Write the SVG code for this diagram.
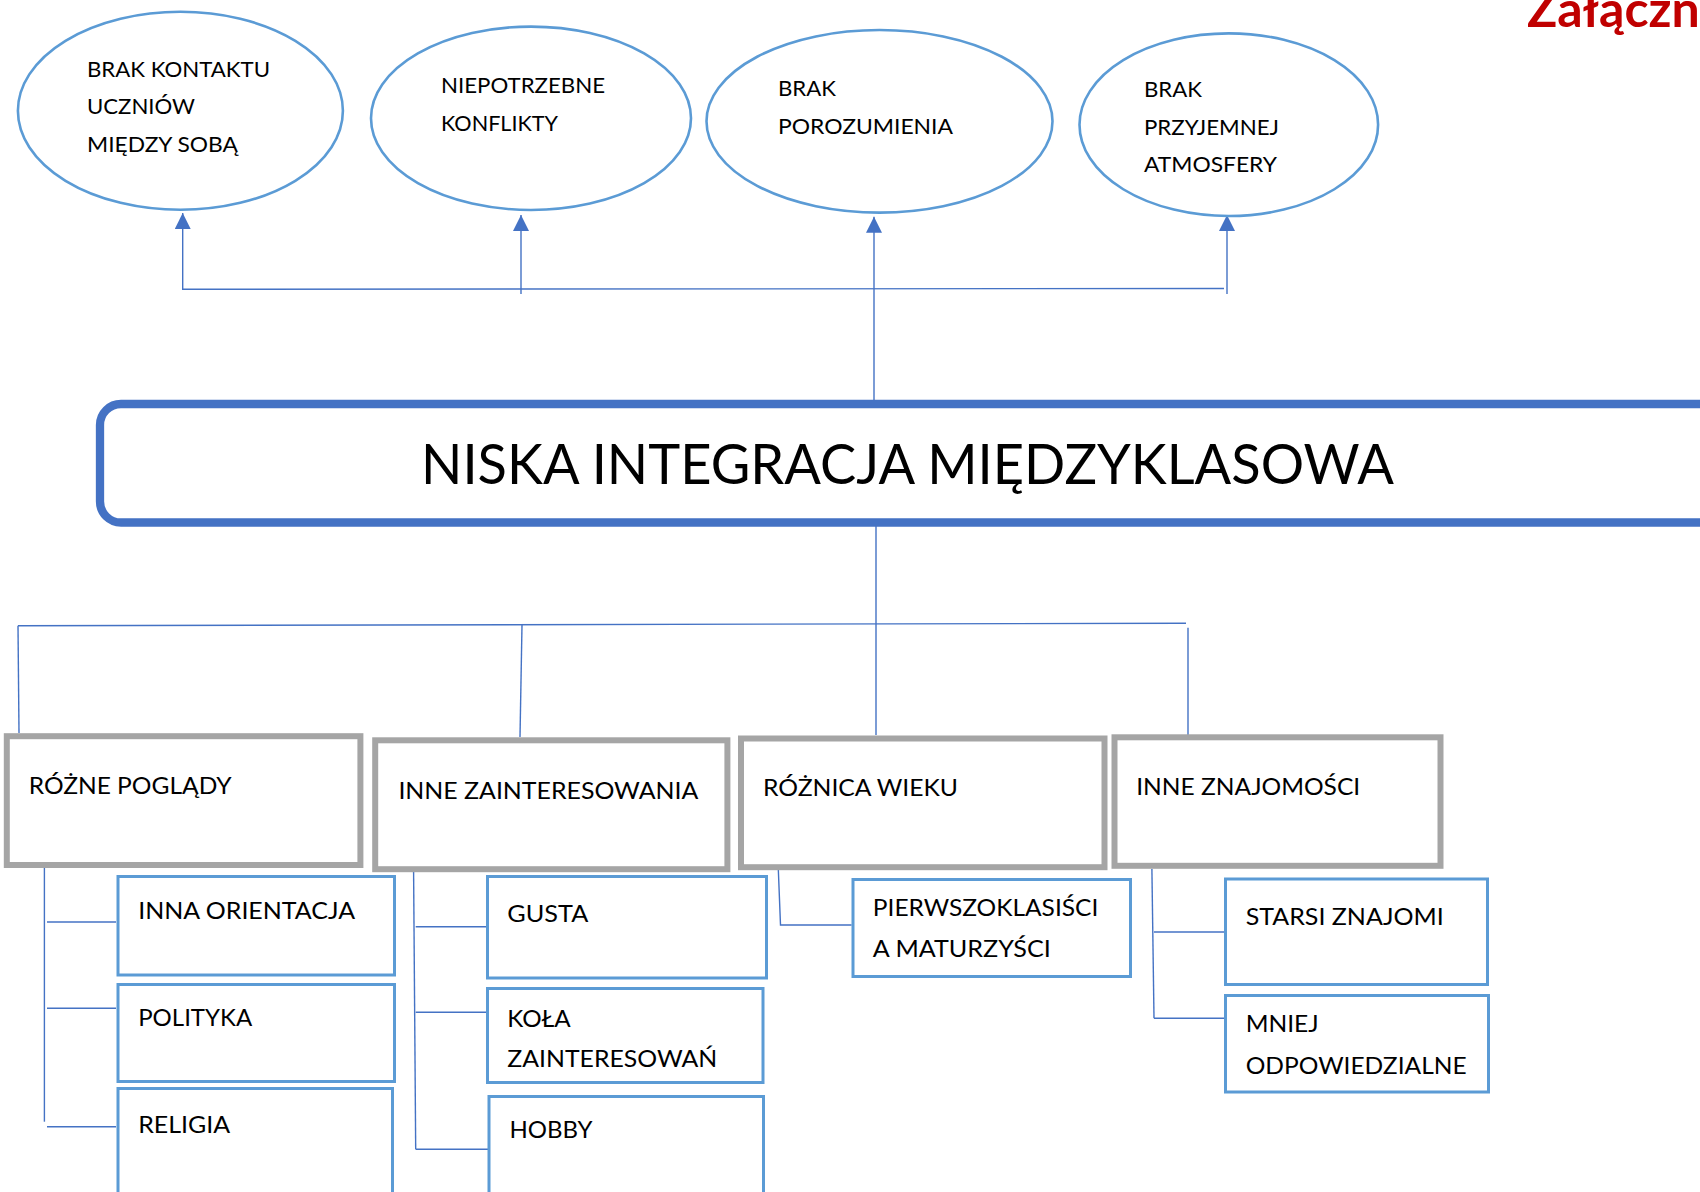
<svg xmlns="http://www.w3.org/2000/svg" width="1700" height="1192" viewBox="0 0 1700 1192">
<style>
.conn{stroke:#4472C4;stroke-width:1.4;fill:none}
.ell{fill:#fff;stroke:#5B9BD5;stroke-width:2.6}
.gray{fill:#fff;stroke:#A5A5A5;stroke-width:6}
.blue{fill:#fff;stroke:#5B9BD5;stroke-width:3}
.main{fill:#fff;stroke:#4472C4;stroke-width:8.3}
.t{font-family:Lato,"Liberation Sans",sans-serif;fill:#000}
.s22{font-size:22px}
.s24{font-size:24px}
.big{font-size:56px}
.red{font-family:Lato,"Liberation Sans",sans-serif;font-weight:bold;font-size:50px;fill:#C00000}
</style>
<defs>
<marker id="arr" markerUnits="userSpaceOnUse" markerWidth="16" markerHeight="16" viewBox="0 0 16 16" refX="16" refY="8" orient="auto">
<path d="M0,0 L16,8 L0,16 z" fill="#4472C4"/>
</marker>
</defs>
<rect width="1700" height="1192" fill="#fff"/>
<text class="red" x="1527" y="27">Załącznik</text>

<g id="connectors">
<line class="conn" x1="182.7" y1="290" x2="182.7" y2="213" marker-end="url(#arr)"/>
<line class="conn" x1="521" y1="294" x2="521" y2="215" marker-end="url(#arr)"/>
<line class="conn" x1="874" y1="400" x2="874" y2="216.7" marker-end="url(#arr)"/>
<line class="conn" x1="1227" y1="294" x2="1227" y2="215" marker-end="url(#arr)"/>
<line class="conn" x1="182.7" y1="289.3" x2="1224" y2="288.5"/>
<line class="conn" x1="876" y1="526" x2="876" y2="735"/>
<line class="conn" x1="18" y1="625.7" x2="1186" y2="623.3"/>
<line class="conn" x1="18" y1="625.7" x2="19" y2="733"/>
<line class="conn" x1="522" y1="625" x2="520" y2="737"/>
<line class="conn" x1="1188" y1="627.7" x2="1188" y2="737"/>
<line class="conn" x1="44.4" y1="868" x2="44.4" y2="1121.7"/>
<line class="conn" x1="47" y1="922" x2="116" y2="922"/>
<line class="conn" x1="47" y1="1008.3" x2="116" y2="1008.3"/>
<line class="conn" x1="47" y1="1126.7" x2="116" y2="1126.7"/>
<line class="conn" x1="413.6" y1="872" x2="415.7" y2="1149.3"/>
<line class="conn" x1="415.7" y1="926.7" x2="486" y2="926.7"/>
<line class="conn" x1="415.7" y1="1012.3" x2="486" y2="1012.3"/>
<line class="conn" x1="415.7" y1="1149.3" x2="488" y2="1149.3"/>
<polyline class="conn" points="778.3,869 780.5,925 851.6,925"/>
<line class="conn" x1="1151.9" y1="869" x2="1154" y2="1018.3"/>
<line class="conn" x1="1154" y1="932" x2="1224" y2="932"/>
<line class="conn" x1="1154" y1="1018.3" x2="1224" y2="1018.3"/>
</g>

<g id="e1">
<ellipse class="ell" cx="180.4" cy="110.8" rx="162.5" ry="99"/>
<text class="t s22" x="87" y="77.3" textLength="183" lengthAdjust="spacingAndGlyphs">BRAK KONTAKTU</text>
<text class="t s22" x="87" y="114.3" textLength="108" lengthAdjust="spacingAndGlyphs">UCZNIÓW</text>
<text class="t s22" x="87" y="151.7" textLength="151" lengthAdjust="spacingAndGlyphs">MIĘDZY SOBĄ</text>
</g>
<g id="e2">
<ellipse class="ell" cx="531" cy="118.3" rx="160" ry="91.7"/>
<text class="t s22" x="441" y="93.3" textLength="164" lengthAdjust="spacingAndGlyphs">NIEPOTRZEBNE</text>
<text class="t s22" x="441" y="130.7" textLength="117" lengthAdjust="spacingAndGlyphs">KONFLIKTY</text>
</g>
<g id="e3">
<ellipse class="ell" cx="879.5" cy="121.3" rx="173" ry="91.3"/>
<text class="t s22" x="778" y="96" textLength="58" lengthAdjust="spacingAndGlyphs">BRAK</text>
<text class="t s22" x="778" y="134" textLength="175" lengthAdjust="spacingAndGlyphs">POROZUMIENIA</text>
</g>
<g id="e4">
<ellipse class="ell" cx="1228.8" cy="124.7" rx="149.3" ry="91.3"/>
<text class="t s22" x="1144" y="96.7" textLength="58" lengthAdjust="spacingAndGlyphs">BRAK</text>
<text class="t s22" x="1144" y="135" textLength="135" lengthAdjust="spacingAndGlyphs">PRZYJEMNEJ</text>
<text class="t s22" x="1144" y="171.7" textLength="133" lengthAdjust="spacingAndGlyphs">ATMOSFERY</text>
</g>

<g id="main">
<rect class="main" x="100" y="404" width="1620" height="118.5" rx="21" ry="21"/>
<text class="t big" x="421" y="484.3" textLength="973" lengthAdjust="spacingAndGlyphs">NISKA INTEGRACJA MIĘDZYKLASOWA</text>
</g>

<g id="g1">
<rect class="gray" x="6.8" y="736.2" width="353.6" height="128.8"/>
<text class="t s24" x="28.7" y="794.3" textLength="203" lengthAdjust="spacingAndGlyphs">RÓŻNE POGLĄDY</text>
</g>
<g id="g2">
<rect class="gray" x="375.2" y="740.3" width="352.2" height="128.9"/>
<text class="t s24" x="398.4" y="799" textLength="300" lengthAdjust="spacingAndGlyphs">INNE ZAINTERESOWANIA</text>
</g>
<g id="g3">
<rect class="gray" x="741" y="738.5" width="363.5" height="128.7"/>
<text class="t s24" x="763" y="796" textLength="195" lengthAdjust="spacingAndGlyphs">RÓŻNICA WIEKU</text>
</g>
<g id="g4">
<rect class="gray" x="1114.5" y="737.3" width="326" height="128.5"/>
<text class="t s24" x="1136.2" y="795" textLength="224" lengthAdjust="spacingAndGlyphs">INNE ZNAJOMOŚCI</text>
</g>

<g id="b1">
<rect class="blue" x="118" y="876.5" width="276.5" height="98.5"/>
<text class="t s24" x="138.2" y="919.3" textLength="217" lengthAdjust="spacingAndGlyphs">INNA ORIENTACJA</text>
</g>
<g id="b2">
<rect class="blue" x="118" y="984.5" width="276.5" height="97"/>
<text class="t s24" x="138.2" y="1026" textLength="114" lengthAdjust="spacingAndGlyphs">POLITYKA</text>
</g>
<g id="b3">
<rect class="blue" x="118" y="1088.5" width="274.5" height="110"/>
<text class="t s24" x="138.2" y="1133.3" textLength="92" lengthAdjust="spacingAndGlyphs">RELIGIA</text>
</g>
<g id="b4">
<rect class="blue" x="487.5" y="876.5" width="279" height="101.5"/>
<text class="t s24" x="507.3" y="921.7" textLength="81" lengthAdjust="spacingAndGlyphs">GUSTA</text>
</g>
<g id="b5">
<rect class="blue" x="487.5" y="988.5" width="275.5" height="94"/>
<text class="t s24" x="507.3" y="1026.7" textLength="63.4" lengthAdjust="spacingAndGlyphs">KOŁA</text>
<text class="t s24" x="507.3" y="1067.3" textLength="210" lengthAdjust="spacingAndGlyphs">ZAINTERESOWAŃ</text>
</g>
<g id="b6">
<rect class="blue" x="489" y="1096.5" width="274.5" height="110"/>
<text class="t s24" x="509.5" y="1138.3" textLength="83" lengthAdjust="spacingAndGlyphs">HOBBY</text>
</g>
<g id="b7">
<rect class="blue" x="853" y="879.5" width="277.5" height="97"/>
<text class="t s24" x="872.8" y="916" textLength="225.5" lengthAdjust="spacingAndGlyphs">PIERWSZOKLASIŚCI</text>
<text class="t s24" x="872.8" y="956.7" textLength="178" lengthAdjust="spacingAndGlyphs">A MATURZYŚCI</text>
</g>
<g id="b8">
<rect class="blue" x="1225.5" y="879" width="262" height="105.5"/>
<text class="t s24" x="1245.7" y="925" textLength="198" lengthAdjust="spacingAndGlyphs">STARSI ZNAJOMI</text>
</g>
<g id="b9">
<rect class="blue" x="1225.5" y="995.5" width="263" height="96.5"/>
<text class="t s24" x="1245.7" y="1031.7" textLength="73" lengthAdjust="spacingAndGlyphs">MNIEJ</text>
<text class="t s24" x="1245.7" y="1074" textLength="221" lengthAdjust="spacingAndGlyphs">ODPOWIEDZIALNE</text>
</g>
</svg>
